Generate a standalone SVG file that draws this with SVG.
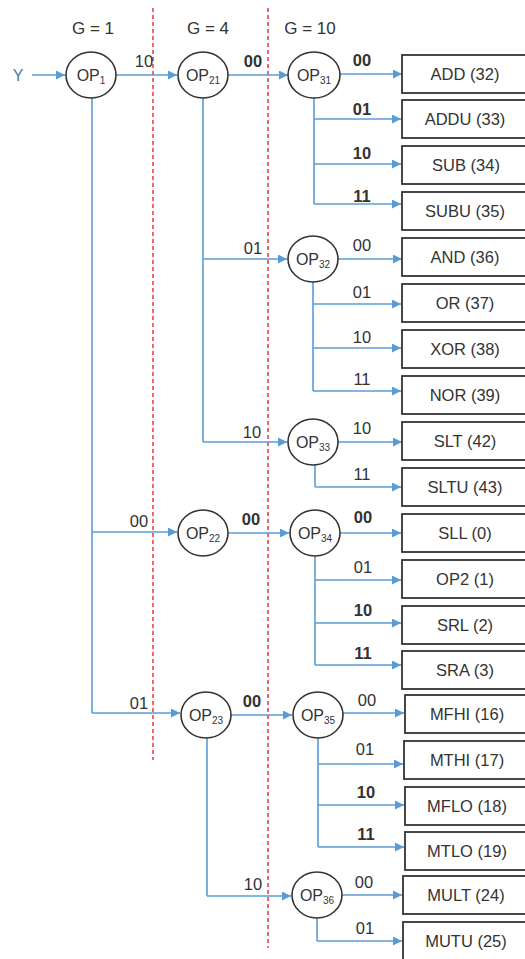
<svg xmlns="http://www.w3.org/2000/svg" width="525" height="959" viewBox="0 0 525 959">
<style>
text{font-family:"Liberation Sans",Arial,sans-serif;fill:#333;}
.g{font-size:17px;text-anchor:middle;}
.lb{font-size:16.5px;text-anchor:middle;}
.b{font-weight:bold;}
.op{font-size:16px;text-anchor:middle;}
.sub{font-size:10px;}
.bx{font-size:16.5px;text-anchor:middle;}
.node ellipse{fill:#fff;stroke:#333;stroke-width:1.6;}
.node rect{fill:#fff;stroke:#333;stroke-width:1.8;}
.c line,.c path{stroke:#5B9BD5;stroke-width:1.6;fill:none;}
.red{stroke:#F0404A;stroke-width:1.6;stroke-dasharray:4 3;}
</style>
<defs>
<marker id="ah" viewBox="0 0 10 10" refX="10" refY="5" markerWidth="11" markerHeight="9" markerUnits="userSpaceOnUse" orient="auto"><path d="M0,0 L10,5 L0,10 z" fill="#5B9BD5"/></marker>
</defs>
<rect width="525" height="959" fill="#fff"/>
<g id="dividers">
<line class="red" x1="153" y1="8" x2="153" y2="760"/>
<line class="red" x1="268" y1="8" x2="268" y2="948"/>
</g>
<g id="headers">
<text class="g" x="93" y="34">G = 1</text>
<text class="g" x="208" y="34">G = 4</text>
<text class="g" x="310" y="34">G = 10</text>
</g>
<g id="connectors" class="c">
<line x1="32" y1="75" x2="65" y2="75" marker-end="url(#ah)"/>
<line x1="116" y1="75" x2="177" y2="75" marker-end="url(#ah)"/>
<line x1="228" y1="75" x2="288" y2="75" marker-end="url(#ah)"/>
<line x1="340" y1="74" x2="402" y2="74" marker-end="url(#ah)"/>
<path d="M314,98 V204"/>
<line x1="314" y1="119" x2="401" y2="119" marker-end="url(#ah)"/>
<line x1="314" y1="164" x2="401" y2="164" marker-end="url(#ah)"/>
<line x1="314" y1="204" x2="401" y2="204" marker-end="url(#ah)"/>
<path d="M203,98 V442"/>
<line x1="203" y1="259" x2="287" y2="259" marker-end="url(#ah)"/>
<line x1="203" y1="442" x2="287" y2="442" marker-end="url(#ah)"/>
<line x1="338" y1="259" x2="402" y2="259" marker-end="url(#ah)"/>
<path d="M313,282 V391"/>
<line x1="313" y1="304" x2="401" y2="304" marker-end="url(#ah)"/>
<line x1="313" y1="348" x2="401" y2="348" marker-end="url(#ah)"/>
<line x1="313" y1="391" x2="401" y2="391" marker-end="url(#ah)"/>
<line x1="338" y1="442" x2="402" y2="442" marker-end="url(#ah)"/>
<path d="M315,465 V487"/>
<line x1="315" y1="487" x2="401" y2="487" marker-end="url(#ah)"/>
<path d="M92,98 V713"/>
<line x1="92" y1="532" x2="177" y2="532" marker-end="url(#ah)"/>
<line x1="228" y1="533" x2="289" y2="533" marker-end="url(#ah)"/>
<line x1="340" y1="533" x2="401" y2="533" marker-end="url(#ah)"/>
<path d="M315,556 V665"/>
<line x1="315" y1="580" x2="401" y2="580" marker-end="url(#ah)"/>
<line x1="315" y1="623" x2="401" y2="623" marker-end="url(#ah)"/>
<line x1="315" y1="665" x2="401" y2="665" marker-end="url(#ah)"/>
<line x1="92" y1="713" x2="180" y2="713" marker-end="url(#ah)"/>
<line x1="231" y1="715" x2="292" y2="715" marker-end="url(#ah)"/>
<line x1="343" y1="713" x2="404" y2="713" marker-end="url(#ah)"/>
<path d="M318,738 V847"/>
<line x1="318" y1="764" x2="403" y2="764" marker-end="url(#ah)"/>
<line x1="318" y1="805" x2="404" y2="805" marker-end="url(#ah)"/>
<line x1="318" y1="847" x2="404" y2="847" marker-end="url(#ah)"/>
<path d="M207,738 V896"/>
<line x1="207" y1="896" x2="291" y2="896" marker-end="url(#ah)"/>
<line x1="342" y1="895" x2="402" y2="895" marker-end="url(#ah)"/>
<path d="M317,918 V941"/>
<line x1="317" y1="941" x2="402" y2="941" marker-end="url(#ah)"/>
</g>
<g id="edge-labels">
<text class="lb" x="144" y="67">10</text>
<text class="lb b" x="253" y="67">00</text>
<text class="lb b" x="362" y="66">00</text>
<text class="lb b" x="362" y="115">01</text>
<text class="lb b" x="362" y="159">10</text>
<text class="lb b" x="362" y="202">11</text>
<text class="lb" x="253" y="254">01</text>
<text class="lb" x="362" y="251">00</text>
<text class="lb" x="362" y="298">01</text>
<text class="lb" x="362" y="343">10</text>
<text class="lb" x="362" y="385">11</text>
<text class="lb" x="252" y="438">10</text>
<text class="lb" x="362" y="434">10</text>
<text class="lb" x="362" y="480">11</text>
<text class="lb" x="139" y="527">00</text>
<text class="lb b" x="251" y="525">00</text>
<text class="lb b" x="363" y="523">00</text>
<text class="lb" x="363" y="573">01</text>
<text class="lb b" x="363" y="616">10</text>
<text class="lb b" x="363" y="659">11</text>
<text class="lb" x="139" y="709">01</text>
<text class="lb b" x="252" y="707">00</text>
<text class="lb" x="367" y="706">00</text>
<text class="lb" x="365" y="755">01</text>
<text class="lb b" x="366" y="798">10</text>
<text class="lb b" x="366" y="840">11</text>
<text class="lb" x="253" y="890">10</text>
<text class="lb" x="364" y="888">00</text>
<text class="lb" x="365" y="934">01</text>
</g>
<g id="Y"><text x="18" y="81" style="font-size:16px;text-anchor:middle;fill:#4a7ab5">Y</text></g>
<g id="OP1" class="node"><ellipse cx="91" cy="75" rx="25" ry="23"/><text class="op" x="91" y="81">OP<tspan class="sub" dy="3">1</tspan></text></g>
<g id="OP21" class="node"><ellipse cx="203" cy="75" rx="25" ry="23"/><text class="op" x="203" y="81">OP<tspan class="sub" dy="3">21</tspan></text></g>
<g id="OP22" class="node"><ellipse cx="203" cy="533" rx="25" ry="23"/><text class="op" x="203" y="539">OP<tspan class="sub" dy="3">22</tspan></text></g>
<g id="OP23" class="node"><ellipse cx="206" cy="715" rx="25" ry="23"/><text class="op" x="206" y="721">OP<tspan class="sub" dy="3">23</tspan></text></g>
<g id="OP31" class="node"><ellipse cx="314" cy="75" rx="26" ry="23"/><text class="op" x="314" y="81">OP<tspan class="sub" dy="3">31</tspan></text></g>
<g id="OP32" class="node"><ellipse cx="313" cy="259" rx="25" ry="23"/><text class="op" x="313" y="265">OP<tspan class="sub" dy="3">32</tspan></text></g>
<g id="OP33" class="node"><ellipse cx="313" cy="442" rx="25" ry="23"/><text class="op" x="313" y="448">OP<tspan class="sub" dy="3">33</tspan></text></g>
<g id="OP34" class="node"><ellipse cx="315" cy="533" rx="25" ry="23"/><text class="op" x="315" y="539">OP<tspan class="sub" dy="3">34</tspan></text></g>
<g id="OP35" class="node"><ellipse cx="318" cy="715" rx="25" ry="23"/><text class="op" x="318" y="721">OP<tspan class="sub" dy="3">35</tspan></text></g>
<g id="OP36" class="node"><ellipse cx="317" cy="895" rx="25" ry="23"/><text class="op" x="317" y="901">OP<tspan class="sub" dy="3">36</tspan></text></g>
<g id="ADD" class="node"><rect x="402" y="55" width="128" height="38"/><text class="bx" x="465" y="80">ADD (32)</text></g>
<g id="ADDU" class="node"><rect x="402" y="100" width="128" height="38"/><text class="bx" x="465" y="125">ADDU (33)</text></g>
<g id="SUB" class="node"><rect x="402" y="146" width="128" height="38"/><text class="bx" x="466" y="171">SUB (34)</text></g>
<g id="SUBU" class="node"><rect x="402" y="192" width="128" height="38"/><text class="bx" x="465" y="217">SUBU (35)</text></g>
<g id="AND" class="node"><rect x="402" y="238" width="128" height="38"/><text class="bx" x="465" y="263">AND (36)</text></g>
<g id="OR" class="node"><rect x="402" y="284" width="128" height="38"/><text class="bx" x="465" y="309">OR (37)</text></g>
<g id="XOR" class="node"><rect x="402" y="330" width="128" height="38"/><text class="bx" x="465" y="355">XOR (38)</text></g>
<g id="NOR" class="node"><rect x="402" y="376" width="128" height="38"/><text class="bx" x="465" y="401">NOR (39)</text></g>
<g id="SLT" class="node"><rect x="402" y="422" width="128" height="38"/><text class="bx" x="465" y="447">SLT (42)</text></g>
<g id="SLTU" class="node"><rect x="402" y="468" width="128" height="38"/><text class="bx" x="465" y="493">SLTU (43)</text></g>
<g id="SLL" class="node"><rect x="402" y="514" width="128" height="38"/><text class="bx" x="465" y="539">SLL (0)</text></g>
<g id="OP2" class="node"><rect x="402" y="560" width="128" height="38"/><text class="bx" x="465" y="585">OP2 (1)</text></g>
<g id="SRL" class="node"><rect x="402" y="606" width="128" height="38"/><text class="bx" x="465" y="631">SRL (2)</text></g>
<g id="SRA" class="node"><rect x="402" y="651" width="128" height="38"/><text class="bx" x="465" y="676">SRA (3)</text></g>
<g id="MFHI" class="node"><rect x="405" y="695" width="128" height="38"/><text class="bx" x="467" y="720">MFHI (16)</text></g>
<g id="MTHI" class="node"><rect x="404" y="741" width="128" height="38"/><text class="bx" x="467" y="766">MTHI (17)</text></g>
<g id="MFLO" class="node"><rect x="405" y="787" width="128" height="38"/><text class="bx" x="467" y="812">MFLO (18)</text></g>
<g id="MTLO" class="node"><rect x="405" y="832" width="128" height="38"/><text class="bx" x="467" y="857">MTLO (19)</text></g>
<g id="MULT" class="node"><rect x="403" y="876" width="128" height="38"/><text class="bx" x="466" y="901">MULT (24)</text></g>
<g id="MUTU" class="node"><rect x="403" y="922" width="128" height="40"/><text class="bx" x="466" y="947">MUTU (25)</text></g>
</svg>
